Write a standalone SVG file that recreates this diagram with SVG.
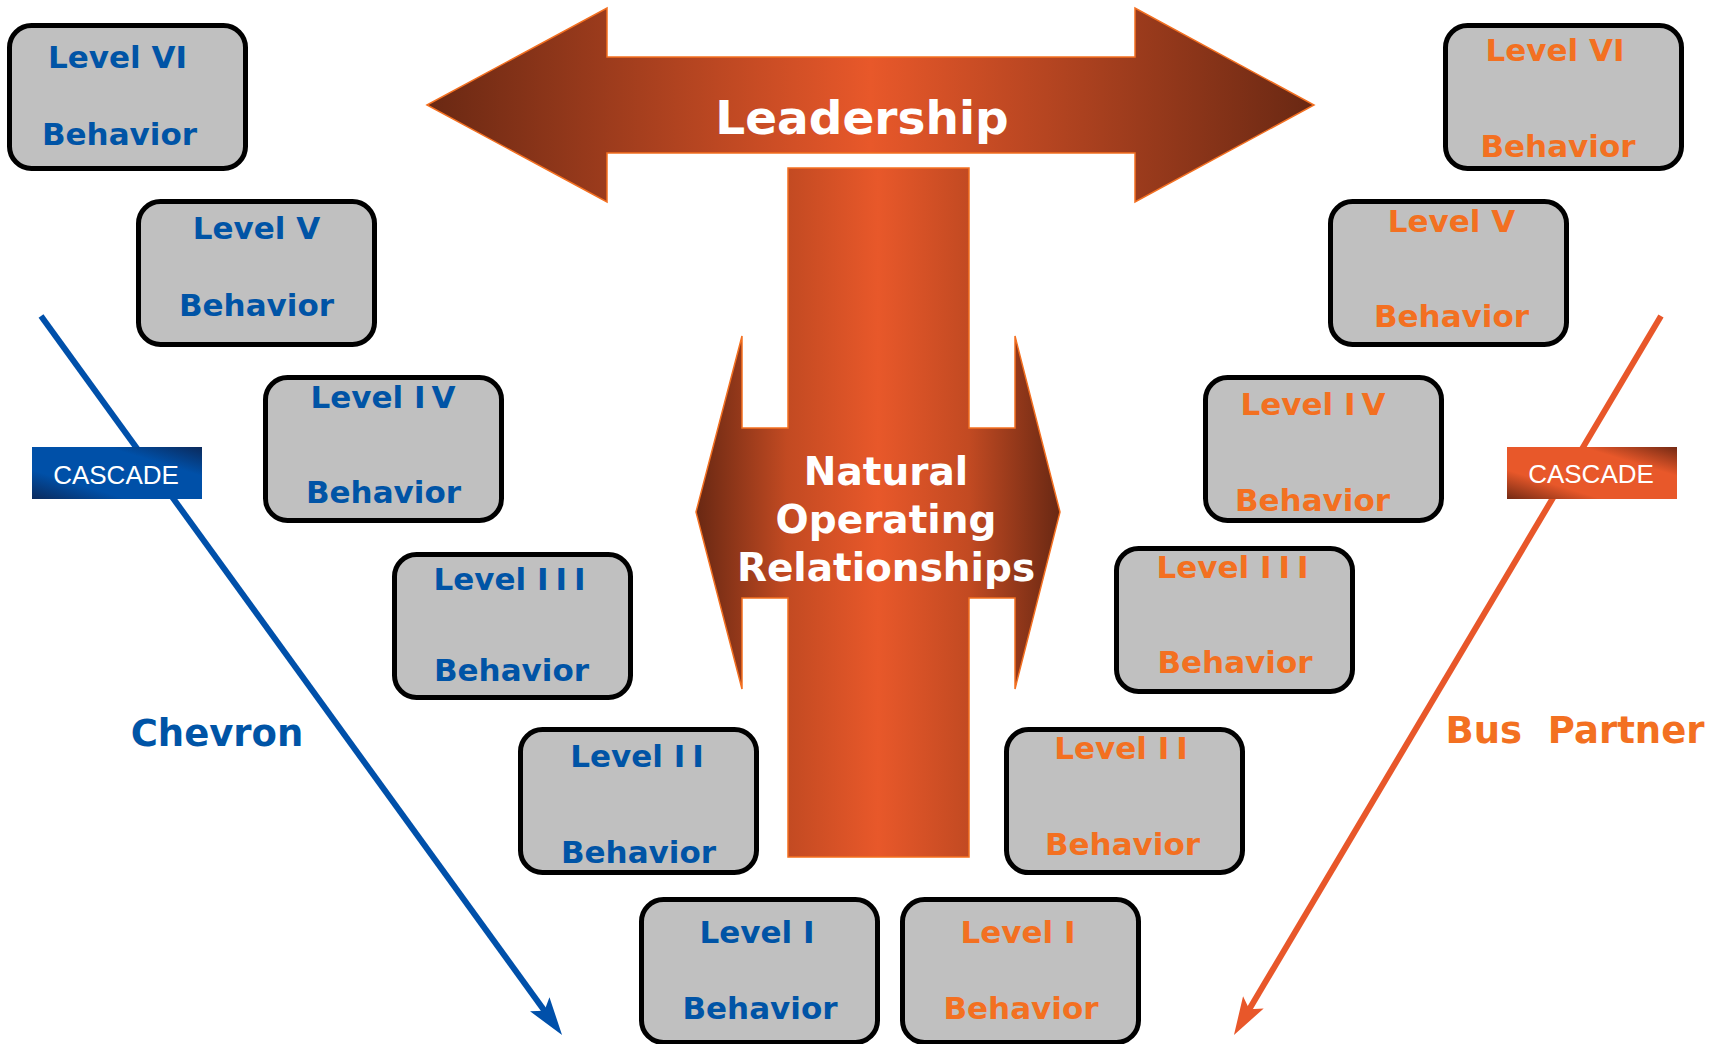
<svg xmlns="http://www.w3.org/2000/svg" width="1725" height="1044" viewBox="0 0 1725 1044">
<defs>
<style>
.box{fill:#c0c0c0;stroke:#000;stroke-width:5}
.t{font-family:"DejaVu Sans",Verdana,sans-serif;font-weight:bold;font-size:31px;text-anchor:middle}
.b{fill:#0054a6}
.o{fill:#f37021}
.sp{letter-spacing:7px}
.big{font-family:"DejaVu Sans",Verdana,sans-serif;font-weight:bold;fill:#fff;text-anchor:middle}
.side{font-family:"DejaVu Sans",Verdana,sans-serif;font-weight:bold;font-size:37px;white-space:pre}
.cas{font-family:"Liberation Sans",Arial,sans-serif;font-size:26px;fill:#fff;text-anchor:middle}
.arrowShape{stroke:#f37021;stroke-width:1.5;stroke-linejoin:miter}
</style>
<linearGradient id="gLead" gradientUnits="userSpaceOnUse" x1="427" y1="0" x2="1314" y2="0">
<stop offset="0" stop-color="#692813"/>
<stop offset="0.5" stop-color="#e8582a"/>
<stop offset="1" stop-color="#692813"/>
</linearGradient>
<linearGradient id="gNat" gradientUnits="userSpaceOnUse" x1="696" y1="0" x2="1060" y2="0">
<stop offset="0" stop-color="#692813"/>
<stop offset="0.25" stop-color="#c24a22"/>
<stop offset="0.5" stop-color="#e8582a"/>
<stop offset="0.75" stop-color="#c24a22"/>
<stop offset="1" stop-color="#692813"/>
</linearGradient>
<linearGradient id="gCasB" x1="0" y1="1" x2="1" y2="0">
<stop offset="0" stop-color="#0b2a5c"/>
<stop offset="0.28" stop-color="#0050a8"/>
<stop offset="0.72" stop-color="#0050a8"/>
<stop offset="1" stop-color="#0b2a5c"/>
</linearGradient>
<linearGradient id="gCasO" x1="0" y1="1" x2="1" y2="0">
<stop offset="0" stop-color="#742a14"/>
<stop offset="0.28" stop-color="#e8582a"/>
<stop offset="0.72" stop-color="#e8582a"/>
<stop offset="1" stop-color="#742a14"/>
</linearGradient>
<marker id="mB" markerUnits="userSpaceOnUse" viewBox="-30 -15 45 30" refX="0" refY="0" markerWidth="45" markerHeight="30" orient="auto">
<path d="M12,0 L-26,-12 L-18,0 L-26,12 Z" fill="#0050aa"/>
</marker>
<marker id="mO" markerUnits="userSpaceOnUse" viewBox="-30 -15 45 30" refX="0" refY="0" markerWidth="45" markerHeight="30" orient="auto">
<path d="M12,0 L-26,-12 L-18,0 L-26,12 Z" fill="#e8572a"/>
</marker>
</defs>
<rect width="1725" height="1044" fill="#fff"/>

<g id="connectors">
<line x1="41" y1="316" x2="555" y2="1025.3" stroke="#0050aa" stroke-width="6" marker-end="url(#mB)"/>
<line x1="1661" y1="316" x2="1240.1" y2="1024.7" stroke="#e8572a" stroke-width="6" marker-end="url(#mO)"/>
</g>

<g id="leadership">
<path class="arrowShape" fill="url(#gLead)" d="M427,105 L607,8 L607,57 L1135,57 L1135,8 L1314,105 L1135,202 L1135,153 L607,153 L607,202 Z"/>
<text class="big" x="862" y="134" font-size="47">Leadership</text>
</g>

<g id="natural-operating-relationships">
<path class="arrowShape" fill="url(#gNat)" d="M696,512 L742,336 L742,428 L788,428 L788,168 L969,168 L969,428 L1015,428 L1015,336 L1060,512 L1015,689 L1015,598 L969,598 L969,857 L788,857 L788,598 L742,598 L742,689 Z"/>
<text class="big" font-size="39"><tspan x="886" y="485">Natural</tspan><tspan x="886" y="533">Operating</tspan><tspan x="886" y="581">Relationships</tspan></text>
</g>

<g id="cascade-left">
<rect x="32" y="447" width="170" height="52" fill="url(#gCasB)"/>
<text class="cas" x="116" y="484">CASCADE</text>
</g>
<g id="cascade-right">
<rect x="1507" y="447" width="170" height="52" fill="url(#gCasO)"/>
<text class="cas" x="1591" y="483">CASCADE</text>
</g>

<g id="label-chevron"><text class="side b" x="217" y="746" text-anchor="middle">Chevron</text></g>
<g id="label-bus-partner"><text class="side o" x="1575" y="743" text-anchor="middle">Bus  Partner</text></g>

<g id="blue-level-6"><rect class="box" x="9.5" y="25.5" width="236" height="143" rx="22"/>
<text class="t b" x="117.5" y="68">Level VI</text><text class="t b" x="119.5" y="145">Behavior</text></g>
<g id="blue-level-5"><rect class="box" x="138.5" y="201.5" width="236" height="143" rx="22"/>
<text class="t b" x="256.5" y="239">Level V</text><text class="t b" x="256.5" y="316">Behavior</text></g>
<g id="blue-level-4"><rect class="box" x="265.5" y="377.5" width="236" height="143" rx="22"/>
<text class="t b" x="383" y="408">Level <tspan style="letter-spacing:6px">I</tspan>V</text><text class="t b" x="383.5" y="503">Behavior</text></g>
<g id="blue-level-3"><rect class="box" x="394.5" y="554.5" width="236" height="143" rx="22"/>
<text class="t b" x="509.5" y="590">Level <tspan class="sp">II</tspan>I</text><text class="t b" x="511.5" y="681">Behavior</text></g>
<g id="blue-level-2"><rect class="box" x="520.5" y="729.5" width="236" height="143" rx="22"/>
<text class="t b" x="637" y="767">Level <tspan class="sp">I</tspan>I</text><text class="t b" x="638.5" y="863">Behavior</text></g>
<g id="blue-level-1"><rect class="box" x="641.5" y="899.5" width="236" height="143" rx="22"/>
<text class="t b" x="757" y="943">Level I</text><text class="t b" x="760" y="1019">Behavior</text></g>

<g id="orange-level-6"><rect class="box" x="1445.5" y="25.5" width="236" height="143" rx="22"/>
<text class="t o" x="1555" y="61">Level VI</text><text class="t o" x="1558" y="157">Behavior</text></g>
<g id="orange-level-5"><rect class="box" x="1330.5" y="201.5" width="236" height="143" rx="22"/>
<text class="t o" x="1451.5" y="232">Level V</text><text class="t o" x="1451.5" y="327">Behavior</text></g>
<g id="orange-level-4"><rect class="box" x="1205.5" y="377.5" width="236" height="143" rx="22"/>
<text class="t o" x="1313" y="415">Level <tspan style="letter-spacing:6px">I</tspan>V</text><text class="t o" x="1312.5" y="511">Behavior</text></g>
<g id="orange-level-3"><rect class="box" x="1116.5" y="548.5" width="236" height="143" rx="22"/>
<text class="t o" x="1232.5" y="578">Level <tspan class="sp">II</tspan>I</text><text class="t o" x="1235" y="673">Behavior</text></g>
<g id="orange-level-2"><rect class="box" x="1006.5" y="729.5" width="236" height="143" rx="22"/>
<text class="t o" x="1121" y="759">Level <tspan class="sp">I</tspan>I</text><text class="t o" x="1122.5" y="855">Behavior</text></g>
<g id="orange-level-1"><rect class="box" x="902.5" y="899.5" width="236" height="143" rx="22"/>
<text class="t o" x="1018" y="943">Level I</text><text class="t o" x="1021" y="1019">Behavior</text></g>
</svg>
